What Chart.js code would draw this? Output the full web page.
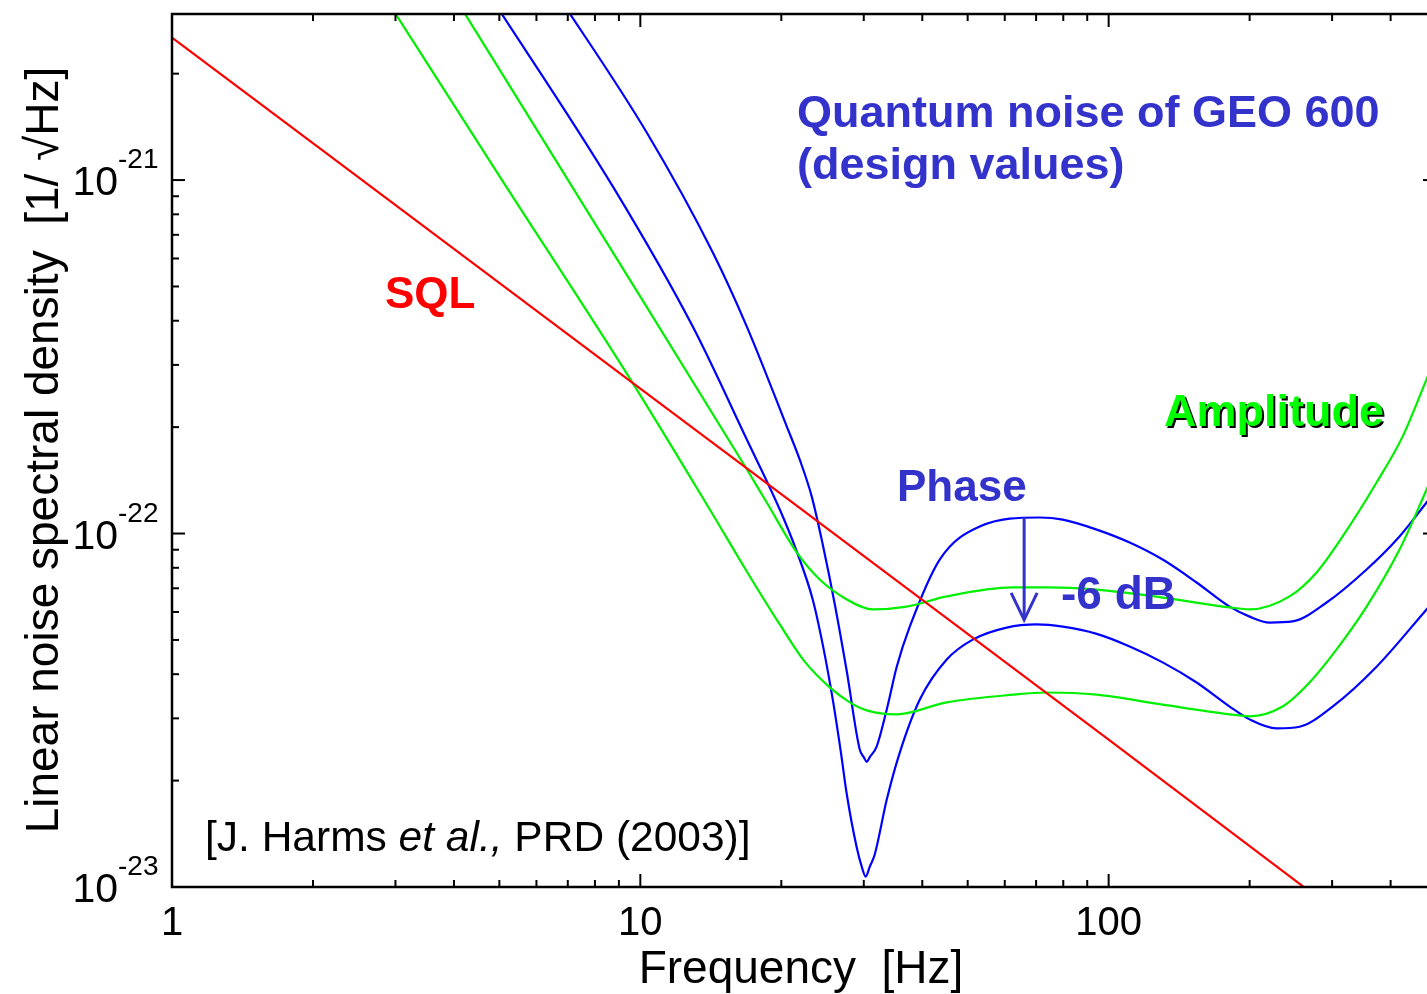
<!DOCTYPE html>
<html>
<head>
<meta charset="utf-8">
<script src="https://cdn.jsdelivr.net/npm/chart.js@4.4.1/dist/chart.umd.min.js"></script>
<style>
  html, body { margin: 0; padding: 0; background: #fff; overflow: hidden; }
  canvas { display: block; }
</style>
</head>
<body>
<canvas id="noiseChart" width="1440" height="994"></canvas>
<script>
// ─── DATA (frequency in Hz, strain noise in 1/√Hz) ───
const SQL_FREQ = [1, 10, 100, 300];
const SQL_VAL  = [2.53e-21, 2.57e-22, 2.61e-23, 8.7e-24];

// amplitude quadrature, higher plateau
const AMP_HIGH_FREQ = [3.92, 8.20, 16.88, 18.62, 21.58, 24.16, 27.60, 31.36, 37.06, 45.1, 62.4, 73.8, 94.3, 130.4, 181.3, 200, 243.4, 278.0, 315.9, 373.3, 424.2, 477.3, 500];
const AMP_HIGH_VAL  = [3.46e-21, 7.15e-22, 1.52e-22, 1.224e-22, 8.84e-23, 7.41e-23, 6.51e-23, 6.10e-23, 6.21e-23, 6.64e-23, 7.04e-23, 7.04e-23, 6.94e-23, 6.59e-23, 6.18e-23, 6.10e-23, 6.64e-23, 7.76e-23, 9.81e-23, 1.394e-22, 1.88e-22, 2.73e-22, 3.16e-22];

// amplitude quadrature, lower plateau
const AMP_LOW_FREQ = [2.78, 5.01, 9.59, 14.28, 16.88, 19.85, 22.44, 25.38, 28.01, 30.44, 35.28, 45.1, 62.4, 73.8, 94.3, 130.4, 181.3, 200, 235.1, 268.5, 306.7, 355.4, 417.9, 477.3, 500];
const AMP_LOW_VAL  = [3.46e-21, 1.023e-21, 2.69e-22, 1.132e-22, 7.81e-23, 5.53e-23, 4.34e-23, 3.67e-23, 3.33e-23, 3.16e-23, 3.08e-23, 3.33e-23, 3.50e-23, 3.55e-23, 3.50e-23, 3.28e-23, 3.08e-23, 3.04e-23, 3.24e-23, 3.79e-23, 4.70e-23, 6.21e-23, 9.01e-23, 1.33e-22, 1.53e-22];

// phase quadrature, shallow dip / upper hump
const PHASE_HIGH_FREQ = [6.54, 10.32, 14.28, 16.88, 20.54, 21.89, 23.23, 24.52, 26.02, 27.60, 29.41, 30.0, 30.44, 30.9, 31.97, 33.59, 35.28, 37.61, 43.58, 53.05, 71.24, 79.8, 94.3, 110.9, 130.4, 154.1, 181.3, 200, 220.6, 247.0, 292.0, 355.4, 417.9, 477.3, 500];
const PHASE_HIGH_VAL  = [3.46e-21, 1.363e-21, 6.24e-22, 3.85e-22, 2.01e-22, 1.62e-22, 1.272e-22, 9.31e-23, 6.30e-23, 4.07e-23, 2.45e-23, 2.33e-23, 2.26e-23, 2.33e-23, 2.50e-23, 3.18e-23, 4.20e-23, 5.45e-23, 8.44e-23, 1.047e-22, 1.11e-22, 1.095e-22, 1.026e-22, 9.43e-23, 8.44e-23, 7.27e-23, 6.21e-23, 5.82e-23, 5.60e-23, 5.64e-23, 6.38e-23, 7.91e-23, 9.81e-23, 1.224e-22, 1.324e-22];

// phase quadrature, deep dip / lower hump (-6 dB)
const PHASE_LOW_FREQ = [4.68, 8.74, 12.94, 16.88, 19.85, 21.58, 23.34, 24.52, 25.76, 26.79, 27.60, 28.98, 29.70, 30.29, 30.90, 31.66, 33.59, 35.81, 39.52, 45.1, 51.25, 60.56, 70.2, 79.8, 94.3, 110.9, 130.4, 154.1, 181.3, 200, 228.4, 255.6, 300.7, 373.3, 477.3, 500];
const PHASE_LOW_VAL  = [3.46e-21, 9.58e-22, 3.85e-22, 1.845e-22, 1.169e-22, 8.89e-23, 6.51e-23, 4.85e-23, 3.39e-23, 2.42e-23, 1.827e-23, 1.293e-23, 1.142e-23, 1.07e-23, 1.142e-23, 1.236e-23, 1.768e-23, 2.40e-23, 3.39e-23, 4.40e-23, 5.01e-23, 5.42e-23, 5.53e-23, 5.45e-23, 5.2e-23, 4.79e-23, 4.32e-23, 3.79e-23, 3.24e-23, 2.98e-23, 2.81e-23, 2.84e-23, 3.24e-23, 4.20e-23, 6.10e-23, 6.55e-23];

// -6 dB arrow between the two phase humps
const ARROW_FREQ = 66;
const ARROW_FROM = 1.11e-22;
const ARROW_TO   = 5.7e-23;

// axes
const X_MIN = 1, X_MAX = 500;
const Y_MIN = 1e-23, Y_MAX = 2.95e-21;
const X_TICKS = [1, 10, 100];
const X_TICK_LABELS = ['1', '10', '100'];
const Y_TICKS = [1e-23, 1e-22, 1e-21];
const Y_TICK_EXP = ['-23', '-22', '-21'];

const FONT = '"Liberation Sans", Arial, Helvetica, sans-serif';
const LABEL_BLUE = '#3333cc';

const pts = (xs, ys) => xs.map((f, i) => ({ x: f, y: ys[i] }));

function series(label, xs, ys, color) {
  return {
    label, data: pts(xs, ys),
    borderColor: color, backgroundColor: color,
    borderWidth: 2.2, pointRadius: 0, fill: false,
    cubicInterpolationMode: 'monotone', clip: 0,
  };
}

// ── frame, inward ticks, tick labels, titles, annotations ──
const decorations = {
  id: 'decorations',
  afterDatasetsDraw(chart) {
    const { ctx, chartArea: a, scales: { x, y } } = chart;
    ctx.save();

    const seg = (x1, y1, x2, y2) => { ctx.beginPath(); ctx.moveTo(x1, y1); ctx.lineTo(x2, y2); ctx.stroke(); };

    ctx.strokeStyle = '#000';
    ctx.lineWidth = 2;
    // frequency ticks (bottom + top)
    for (let d = 0; d < 3; d++) {
      for (let m = 1; m < 10; m++) {
        const v = m * Math.pow(10, d);
        if (v > X_MAX) break;
        const px = x.getPixelForValue(v), len = m === 1 ? 13 : 7;
        seg(px, a.bottom, px, a.bottom - len);
        seg(px, a.top, px, a.top + len);
      }
    }
    // noise ticks (left + right)
    for (let e = -23; e < -20; e++) {
      for (let m = 1; m < 10; m++) {
        const v = m * Math.pow(10, e);
        if (v > Y_MAX) break;
        const py = y.getPixelForValue(v), len = m === 1 ? 13 : 7;
        seg(a.left, py, a.left + len, py);
        seg(a.right, py, a.right - len, py);
      }
    }
    ctx.lineWidth = 2.5;
    ctx.strokeRect(a.left, a.top, a.right - a.left, a.bottom - a.top);

    // tick labels
    ctx.fillStyle = '#000';
    ctx.textBaseline = 'alphabetic';
    ctx.font = `40px ${FONT}`;
    ctx.textAlign = 'center';
    X_TICKS.forEach((v, i) => ctx.fillText(X_TICK_LABELS[i], x.getPixelForValue(v), a.bottom + 48));
    Y_TICKS.forEach((v, i) => {
      const py = y.getPixelForValue(v);
      ctx.font = `41px ${FONT}`;
      ctx.textAlign = 'right';
      ctx.fillText('10', 118, py + 15);
      ctx.font = `28px ${FONT}`;
      ctx.textAlign = 'left';
      ctx.fillText(Y_TICK_EXP[i], 118, py - 12);
    });

    // axis titles
    ctx.font = `46px ${FONT}`;
    ctx.textAlign = 'center';
    ctx.fillText('Frequency  [Hz]', 801, 983);
    ctx.save();
    ctx.translate(58, 450);
    ctx.rotate(-Math.PI / 2);
    ctx.fillText('Linear noise spectral density  [1/ \u221AHz]', 0, 0);
    ctx.restore();

    // annotations
    ctx.textAlign = 'left';
    ctx.font = `bold 45px ${FONT}`;
    ctx.fillStyle = LABEL_BLUE;
    ctx.fillText('Quantum noise of GEO 600', 797, 127);
    ctx.fillText('(design values)', 797, 179);
    ctx.font = `bold 44px ${FONT}`;
    ctx.fillText('Phase', 897, 501);
    ctx.font = `bold 46px ${FONT}`;
    ctx.fillText('-6 dB', 1061, 609);

    ctx.font = `bold 44px ${FONT}`;
    ctx.fillStyle = '#ff0000';
    ctx.fillText('SQL', 385, 308);

    ctx.font = `bold 45px ${FONT}`;
    ctx.fillStyle = '#000';
    ctx.fillText('Amplitude', 1166, 428);
    ctx.fillStyle = '#00ff00';
    ctx.fillText('Amplitude', 1164, 426);

    // citation, with italic "et al.,"
    ctx.fillStyle = '#000';
    let cx = 205;
    const parts = [['[J. Harms ', ''], ['et al.,', 'italic '], [' PRD (2003)]', '']];
    parts.forEach(([t, st]) => {
      ctx.font = `${st}42.5px ${FONT}`;
      ctx.fillText(t, cx, 851);
      cx += ctx.measureText(t).width;
    });

    // -6 dB arrow
    const ax = x.getPixelForValue(ARROW_FREQ);
    const y0 = y.getPixelForValue(ARROW_FROM), y1 = y.getPixelForValue(ARROW_TO);
    ctx.strokeStyle = LABEL_BLUE;
    ctx.lineWidth = 3;
    seg(ax, y0, ax, y1);
    ctx.beginPath();
    ctx.moveTo(ax - 13, y1 - 27);
    ctx.lineTo(ax, y1);
    ctx.lineTo(ax + 13, y1 - 27);
    ctx.stroke();

    ctx.restore();
  },
};

new Chart(document.getElementById('noiseChart').getContext('2d'), {
  type: 'line',
  data: {
    datasets: [
      series('SQL', SQL_FREQ, SQL_VAL, '#ff0000'),
      series('Amplitude high', AMP_HIGH_FREQ, AMP_HIGH_VAL, '#00f000'),
      series('Amplitude low', AMP_LOW_FREQ, AMP_LOW_VAL, '#00f000'),
      series('Phase high', PHASE_HIGH_FREQ, PHASE_HIGH_VAL, '#0000ff'),
      series('Phase low', PHASE_LOW_FREQ, PHASE_LOW_VAL, '#0000ff'),
    ],
  },
  options: {
    responsive: false, animation: false,
    layout: { padding: { left: 172, top: 14, right: 4, bottom: 107 } },
    plugins: { legend: { display: false }, tooltip: { enabled: false } },
    scales: {
      x: { type: 'logarithmic', min: X_MIN, max: X_MAX, display: false },
      y: { type: 'logarithmic', min: Y_MIN, max: Y_MAX, display: false },
    },
  },
  plugins: [decorations],
});
</script>
</body>
</html>
